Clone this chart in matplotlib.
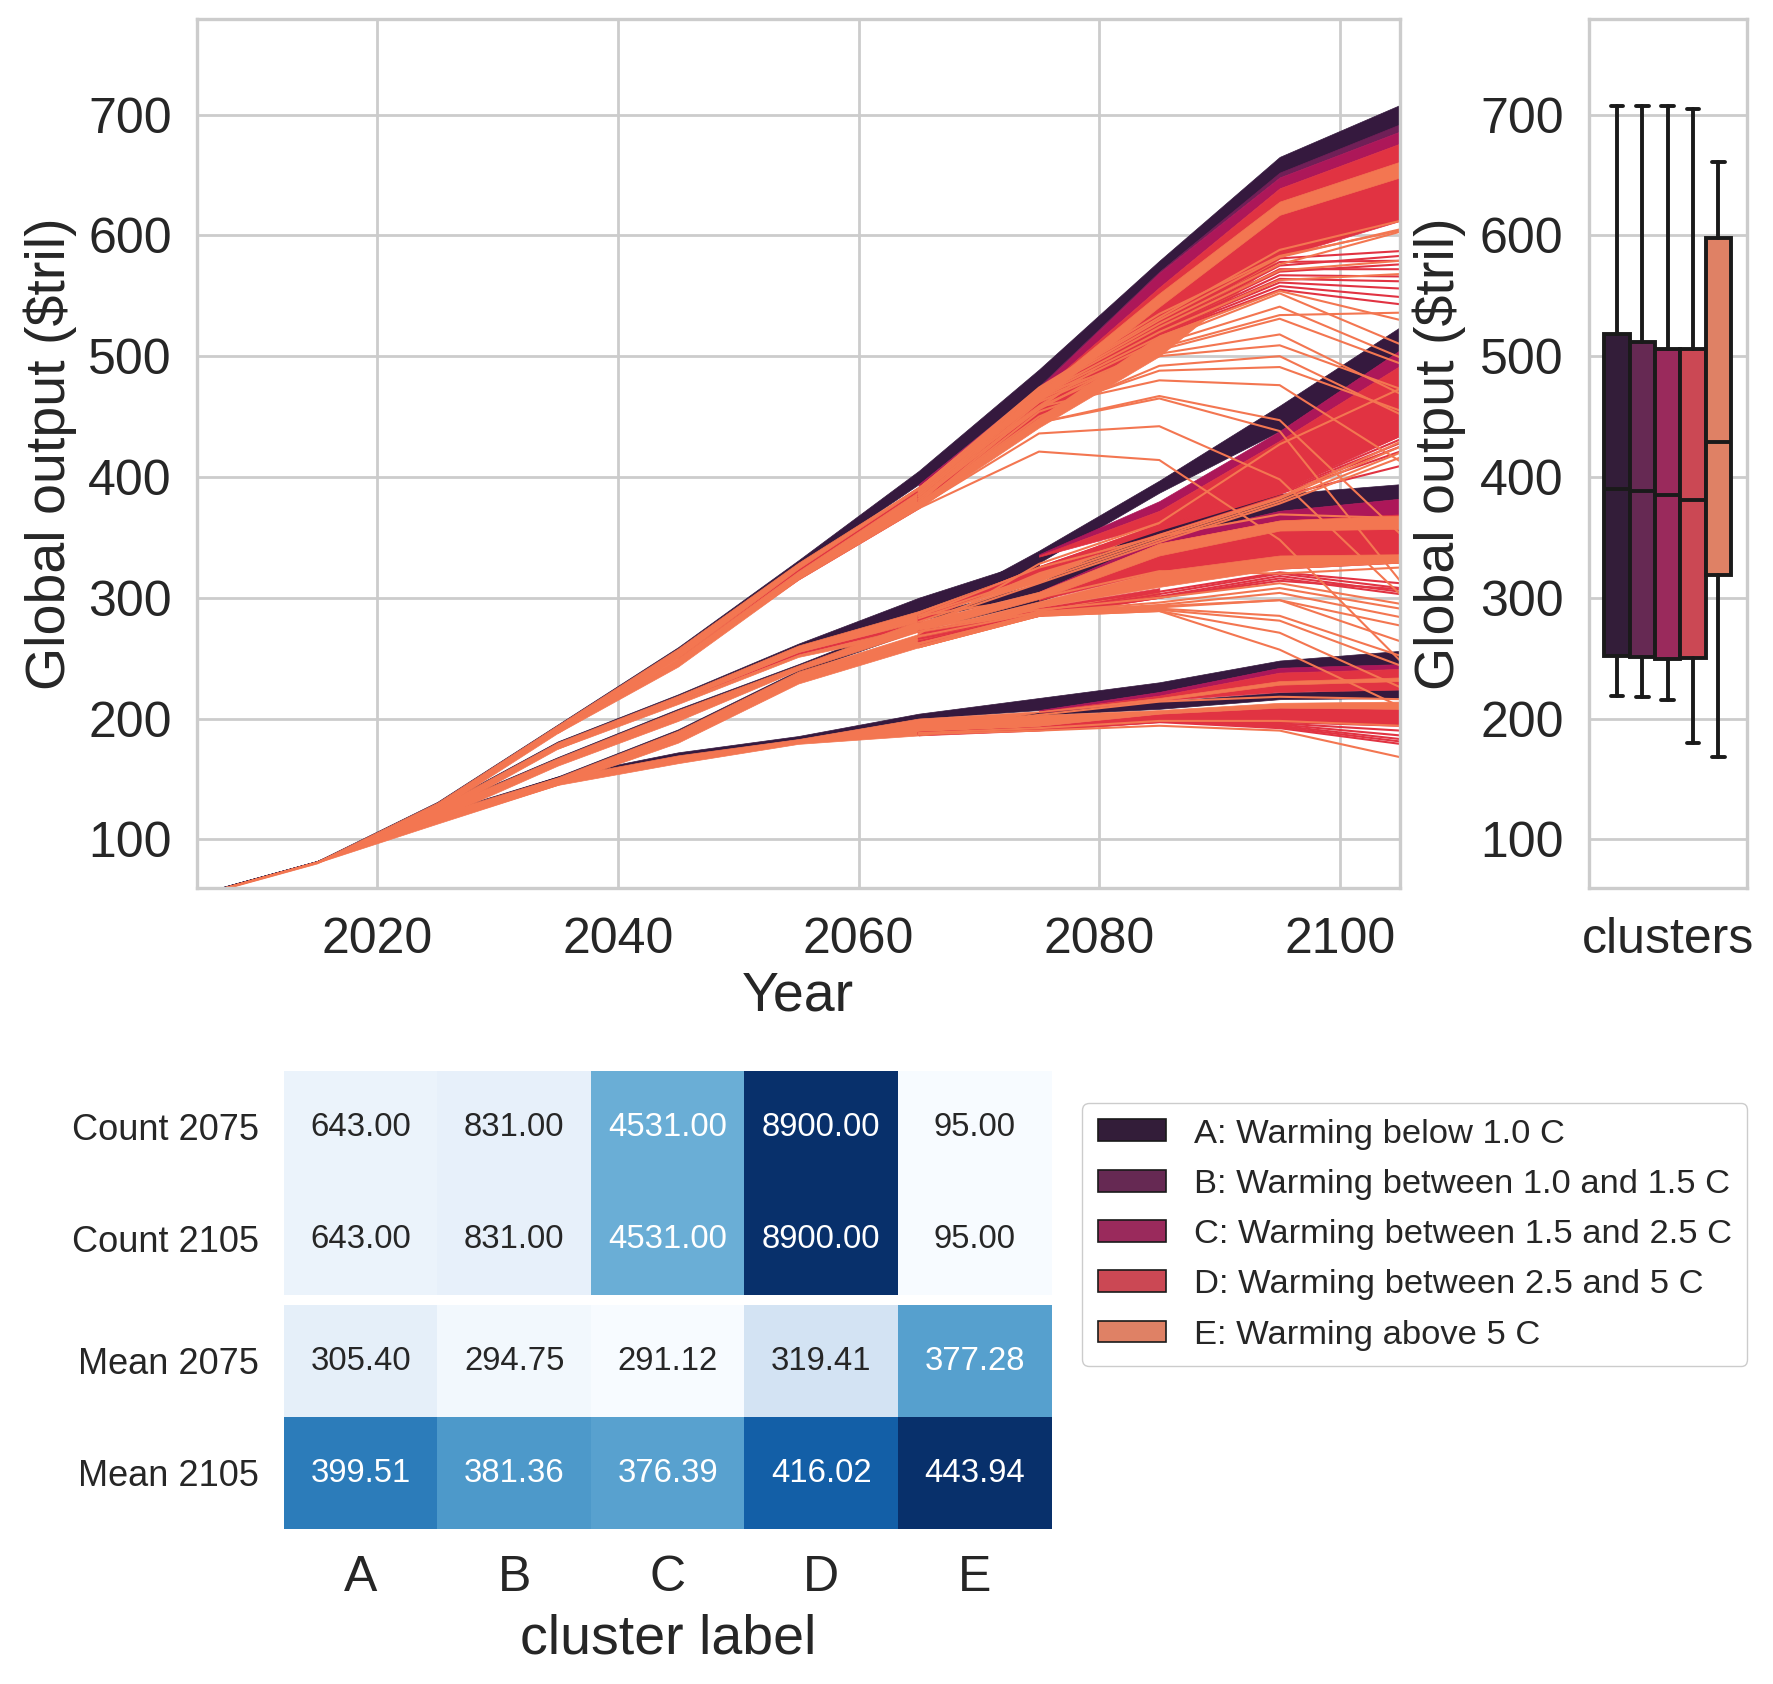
import numpy as np
import matplotlib
matplotlib.use('Agg')
import matplotlib.pyplot as plt
from matplotlib.patches import Patch
from matplotlib.transforms import ScaledTranslation
import seaborn as sns

n = np.nan
years = [2005, 2015, 2025, 2035, 2045, 2055, 2065, 2075, 2085, 2095, 2105]
late_years = years[-5:]

# solid bands of trajectories, read as upper / lower edge per decade
a1_hi = [54.5, 82, 131, 195, 259, 331, 405, 489, 579, 665, 708]
a1_lo = [53, 81, 129, 192, 256, 326, 394, 475, 570, 651, 691]
a2_hi = [54.5, 82, 127, 181, 220, 262, 300, 332, n, n, n]
a2_lo = [53, 81, 126, 179, 217, 259, 289, 325, n, n, n]
a2b_hi = [n, n, n, n, n, n, 285, 339, 397, 459, 524]
a2b_lo = [n, n, n, n, n, n, 280, 329, 387, 438, 505]
a3_hi = [54.5, 82, 125.5, 168, 208, 245, 284, 312, 361, 386, 394]
a3_lo = [53, 81, 124, 166, 206, 243, 281, 305, 349, 372, 382]
a4_hi = [54.5, 82, 121.5, 152, 191, 240, 276, 301, 335, n, n]
a4_lo = [53, 81, 120, 150, 189, 238, 273, 297, 332, n, n]
a5_hi = [54.5, 82, 120, 152, 172, 185.5, 204, 217, 230, 248, 256]
a5_lo = [53, 81, 119, 150, 169, 183, 200, 207, 222, 242, 245]
a6_hi = [n, n, n, n, n, n, 197, 205, 214, 221.6, 224]
a6_lo = [n, n, n, n, n, n, 196, 203, 208, 216, 217]

b1_hi = [n, n, n, n, n, n, n, 475, 570, 652, 692]
b1_lo = [n, n, n, n, n, n, n, 474, 569, 648, 686]

c1_hi = [n, n, n, n, n, n, 394, 474, 569, 648, 686]
c1_lo = [n, n, n, n, n, n, 392, 470, 557, 639, 676]
c2_hi = [n, n, n, n, n, n, n, 336, 380, 438, 505]
c2_lo = [n, n, n, n, n, n, n, 335, 372, 430, 492]
c3_hi = [n, n, n, n, n, n, n, 305, 349, 372, 382]
c3_lo = [n, n, n, n, n, n, n, 304, 345, 364, 369]
c5_hi = [n, n, n, n, n, n, n, 207, 222, 242, 245]
c5_lo = [n, n, n, n, n, n, n, 206, 219, 238, 241]

d1_hi = [n, n, n, n, 256, 326, 392, 470, 557, 639, 676]
d1_lo = [n, n, n, n, 246, 315, 374, 452, 521, 582, 612]
d2_hi = [n, n, n, n, n, n, n, 335, 372, 430, 492]
d2_lo = [n, n, n, n, n, n, n, 334, 361, 389, 434]
d3_hi = [n, n, n, n, n, n, n, 304, 345, 364, 369]
d3_lo = [n, n, n, n, n, n, n, 298, 322, 324, 329]
d4_hi = [n, n, n, n, 215, 255, 280, n, n, n, n]
d4_lo = [n, n, n, n, 215, 253, 277, n, n, n, n]
d5_hi = [n, n, n, n, n, n, n, 206, 219, 238, 241]
d5_lo = [n, n, n, n, n, n, n, 205, 215, 222, 224]
d6_hi = [n, n, n, n, n, n, 186, 194, 204, 209, 208]
d6_lo = [n, n, n, n, n, n, 186, 190, 197, 197, 195]
d7_hi = [n, n, n, n, n, n, 262, 292, 308, n, n]
d7_lo = [n, n, n, n, n, n, 260, 290, 305, n, n]

e1_hi = [54, 81.7, 130.5, 194.5, 258, 329, 392, 470, 552, 628, 661]
e1_lo = [52.5, 80, 124, 188, 250, 324, 390, 462, 541, 617, 648]
e2_hi = [n, n, n, 189, 250, 322, 388, 460, 524, 582, n]
e2_lo = [n, n, n, 188, 243, 315, 374, 441, 500, 581, n]
e3_hi = [54, 81.7, 126.5, 180.3, 219, 260.5, 289, n, n, n, n]
e3_lo = [53, 81, 120, 175, 215, 255, 280, n, n, n, n]
e3b_hi = [n, n, n, 176, 215, 253, 277, n, n, n, n]
e3b_lo = [n, n, n, 175, 212, 251, 272, n, n, n, n]
e4_hi = [54, 81.7, 125, 167.3, 207, 244, 281, n, n, n, n]
e4_lo = [53, 81, 117, 161, 198, 240, 272, n, n, n, n]
e5_hi = [54, 81.7, 121, 151.3, 190, 239, 270, n, n, n, n]
e5_lo = [53, 81, 114, 145, 180, 229, 259, n, n, n, n]
e6_hi = [n, n, n, n, n, n, 289, 325, 362, n, n]
e6_lo = [n, n, n, n, n, n, 285, 313, 361, n, n]
e6b_hi = [n, n, n, n, n, n, 280, 305, 345, 364, 368]
e6b_lo = [n, n, n, n, n, n, 272, 299, 335, 355.6, 357]
e7_hi = [n, n, n, n, n, n, 272, 297, 322, 335, 336]
e7_lo = [n, n, n, n, n, n, 262, 292, 309, 324, 329]
e7b_hi = [n, n, n, n, n, n, 260, 290, 305, n, n]
e7b_lo = [n, n, n, n, n, n, 259, 285, 300, n, n]
e8_hi = [54, 81.7, 119, 151, 169.5, 183, 200, 206, 217, 231, 234]
e8_lo = [53, 80.5, 113, 145, 163, 179, 186, 205.5, 215, 228, 231]
e9_hi = [n, n, n, n, n, n, 195, 203, 207, 213, 214]
e9_lo = [n, n, n, n, n, n, 186, 194, 204, 209, 208]

# single trajectories, 2065 to 2105
lines_d = [
    [385, 455, 525, 581, 587], [385, 455, 524, 578, 579], [384, 454, 523, 575, 583],
    [384, 454, 522, 572, 572], [383, 453, 522, 570, 576], [383, 453, 521, 567, 566],
    [382, 452, 521, 564, 562], [381, 452, 520, 561, 556], [380, 451, 519, 558, 549],
    [380, 450, 518, 555, 543],
    [285, 325, 360, 391, 434], [284, 325, 359, 389, 431], [283, 324, 358, 388, 428],
    [282, 324, 357, 387, 425], [281, 323, 356, 386, 421], [280, 322, 352, 384, 409],
    [272, 287, 305, 321, 312], [270, 286, 303, 320, 308], [268, 286, 301, 318, 305],
    [266, 285, 300, 316, 303], [264, 285, 300, 314, 307],
    [188, 192, 199, 197, 194], [188, 192, 199, 196, 190], [188, 192, 198, 195, 186],
    [188, 191, 198, 194, 183], [187, 191, 198, 193, 181], [187, 191, 197, 192, 179],
]
lines_e = [
    [374, 421, 414, 348, 248], [375, 436, 442, 398, 303], [376, 445, 465, 438, 314],
    [376, 445, 467, 447, 353], [376, 458, 480, 476, 413], [376, 454, 488, 491, 455],
    [378, 450, 492, 500, 452], [378, 469, 500, 509, 473], [380, 458, 502, 518, 469],
    [380, 462, 505, 531, 494], [382, 464, 507, 534, 536], [382, 456, 510, 541, 499],
    [384, 465, 513, 552, 510], [384, 467, 516, 554, 530], [386, 468, 520, 563, 568],
    [386, 470, 524, 571, 579], [388, 471, 527, 576, 603], [388, 472, 530, 582, 605],
    [390, 473, 532, 588, 612], [390, 474, 535, 583, 604],
    [270, 328, 362, 427, 473], [285, 325, 351, 369, 366], [285, 300, 322, 320, 325],
    [275, 290, 300, 312, 295], [272, 288, 296, 308, 291], [268, 288, 294, 304, 284],
    [262, 287, 293, 298, 277], [262, 287, 292, 298, 264], [260, 286, 291, 285, 252],
    [259, 286, 290, 281, 244], [259, 285, 289, 271, 226], [259, 285, 289, 257, 210],
    [285, 318, 352, 383, 429], [283, 316, 350, 382, 425], [280, 314, 348, 380, 420],
    [278, 312, 346, 378, 416],
    [187, 190, 194, 190, 168], [188, 192, 198, 198, 194], [192, 203, 214, 218, 216],
]

# boxplot stats per cluster
box_high = [707, 707, 707, 705, 661]
box_q3 = [518, 512, 506, 506, 598]
box_med = [390, 388, 385, 381, 429]
box_q1 = [252, 251, 249, 250, 319]
box_low = [219, 218, 215, 180, 168]

cluster_letters = ['A', 'B', 'C', 'D', 'E']
legend_labels = ['A: Warming below 1.0 C', 'B: Warming between 1.0 and 1.5 C',
                 'C: Warming between 1.5 and 2.5 C', 'D: Warming between 2.5 and 5 C',
                 'E: Warming above 5 C']
count_rows = ['Count 2075', 'Count 2105']
mean_rows = ['Mean 2075', 'Mean 2105']
counts = [[643, 831, 4531, 8900, 95], [643, 831, 4531, 8900, 95]]
means = [[305.40, 294.75, 291.12, 319.41, 377.28], [399.51, 381.36, 376.39, 416.02, 443.94]]

sns.set_style('whitegrid')
plt.rcParams['font.family'] = ['Liberation Sans', 'DejaVu Sans']
plt.rcParams['text.color'] = '.15'

W, H = 1773, 1684
fig = plt.figure(figsize=(W / 100, H / 100), dpi=100)


def axes_px(left, right, top, bottom):
    return fig.add_axes([left / W, 1 - bottom / H, (right - left) / W, (bottom - top) / H])


def style_axis(ax):
    for s in ax.spines.values():
        s.set_color('.8')
        s.set_linewidth(2.4)
    ax.grid(True, color='.8', lw=2)
    ax.set_axisbelow(True)
    ax.tick_params(labelsize=36, length=0, colors='.15')
    ax.tick_params(axis='y', pad=18)
    ax.tick_params(axis='x', pad=21)


colors = sns.color_palette('rocket', 6)[:5]
box_colors = sns.color_palette('rocket', 6, desat=0.75)[:5]

bands = [
    (0, [(a1_hi, a1_lo), (a2_hi, a2_lo), (a2b_hi, a2b_lo), (a3_hi, a3_lo), (a4_hi, a4_lo),
         (a5_hi, a5_lo), (a6_hi, a6_lo)]),
    (1, [(b1_hi, b1_lo)]),
    (2, [(c1_hi, c1_lo), (c2_hi, c2_lo), (c3_hi, c3_lo), (c5_hi, c5_lo)]),
    (3, [(d1_hi, d1_lo), (d2_hi, d2_lo), (d3_hi, d3_lo), (d4_hi, d4_lo), (d5_hi, d5_lo),
         (d6_hi, d6_lo), (d7_hi, d7_lo)]),
    (4, [(e1_hi, e1_lo), (e2_hi, e2_lo), (e3_hi, e3_lo), (e3b_hi, e3b_lo), (e4_hi, e4_lo),
         (e5_hi, e5_lo), (e6_hi, e6_lo), (e6b_hi, e6b_lo), (e7_hi, e7_lo), (e7b_hi, e7b_lo),
         (e8_hi, e8_lo), (e9_hi, e9_lo)]),
]

ax = axes_px(196.7, 1400, 19.2, 887.6)
style_axis(ax)
for idx, group in bands:
    for hi, lo in group:
        ax.fill_between(years, np.array(hi, float), np.array(lo, float), color=colors[idx], lw=0.5)
    if idx == 3:
        for row in lines_d:
            ax.plot(late_years, row, color=colors[3], lw=1.5)
    if idx == 4:
        for row in lines_e:
            ax.plot(late_years, row, color=colors[4], lw=1.5)
ax.set_xlim(2005, 2105)
ax.set_ylim(60, 779)
ax.set_xticks([2020, 2040, 2060, 2080, 2100])
ax.set_yticks(range(100, 701, 100))
ax.set_xlabel('Year', size=40)
ax.set_ylabel('Global output (\\$tril)', size=40)
ax.xaxis.set_label_coords(0.5, -0.095)
ax.yaxis.set_label_coords(-0.0996, 0.5)

# boxes, one per cluster, side by side
ax2 = axes_px(1588.6, 1747, 19.2, 887.6)
style_axis(ax2)
stats = []
for i in range(5):
    stats.append({'whishi': box_high[i], 'q3': box_q3[i], 'med': box_med[i],
                  'q1': box_q1[i], 'whislo': box_low[i], 'fliers': []})
bp = ax2.bxp(stats, positions=[-0.32, -0.16, 0, 0.16, 0.32], widths=0.16, capwidths=0.08,
             patch_artist=True, manage_ticks=False, showfliers=False,
             boxprops=dict(edgecolor='.1', linewidth=2.8),
             medianprops=dict(color='.1', linewidth=2.8),
             whiskerprops=dict(color='.1', linewidth=2.8),
             capprops=dict(color='.1', linewidth=2.8))
for patch, c in zip(bp['boxes'], box_colors):
    patch.set_facecolor(c)
ax2.set_xlim(-0.5, 0.5)
ax2.set_ylim(60, 779)
ax2.set_xticks([0])
ax2.set_xticklabels(['clusters'])
ax2.xaxis.grid(False)
ax2.set_yticks(range(100, 701, 100))
ax2.set_ylabel('Global output (\\$tril)', size=40)
ax2.yaxis.set_label_coords(-0.777, 0.5)

ax3 = axes_px(283.8, 1051.6, 1071, 1295)
sns.heatmap(counts, ax=ax3, cmap='Blues', annot=True, fmt='.2f', cbar=False,
            annot_kws={'size': 23.7})
ax3.set_xticks([])
ax3.set_yticklabels(count_rows, rotation=0, size=26)
ax3.tick_params(length=0, pad=18)

ax4 = axes_px(283.8, 1051.6, 1305, 1529)
sns.heatmap(means, ax=ax4, cmap='Blues', annot=True, fmt='.2f', cbar=False,
            annot_kws={'size': 23.7})
ax4.set_xticklabels(cluster_letters, size=36)
ax4.set_yticklabels(mean_rows, rotation=0, size=26)
ax4.tick_params(length=0)
ax4.tick_params(axis='y', pad=18)
ax4.tick_params(axis='x', pad=19)
ax4.set_xlabel('cluster label', size=40, labelpad=9)

# row labels sit a little under the row centre in the reference
for a in (ax3, ax4):
    for lab in a.get_yticklabels():
        lab.set_transform(lab.get_transform() + ScaledTranslation(0, -4 / 100, fig.dpi_scale_trans))

handles = [Patch(facecolor=c, edgecolor='.1', lw=1.2, label=l) for c, l in zip(box_colors, legend_labels)]
fig.legend(handles=handles, loc='upper left', bbox_to_anchor=(1082 / W, 1 - 1103 / H),
           fontsize=24.8, frameon=True, edgecolor='.8', facecolor='white', framealpha=1,
           borderaxespad=0, handlelength=2.0, handleheight=0.6, handletextpad=0.8,
           labelspacing=0.56, borderpad=0.45)

fig.savefig('out.png', dpi=100)
